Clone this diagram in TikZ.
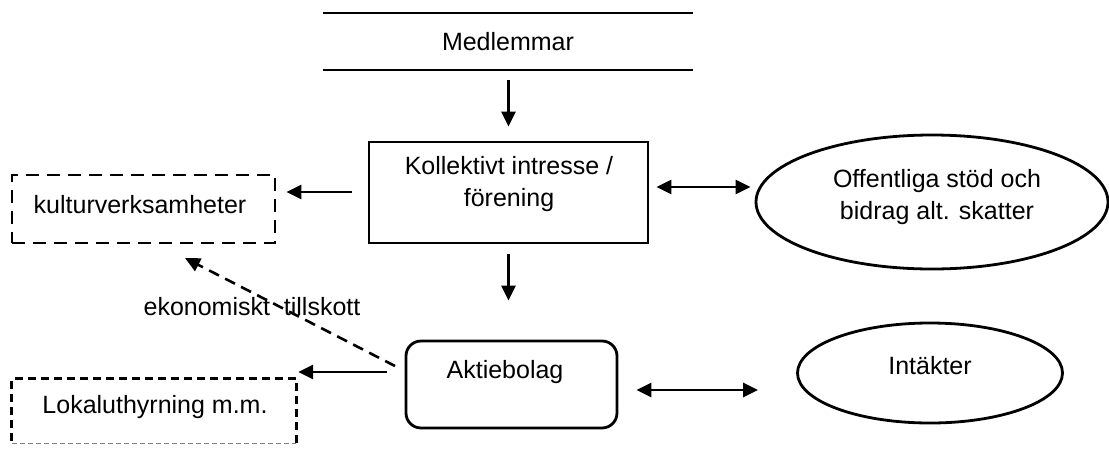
\documentclass[tikz,border=0pt]{standalone}
\usepackage{fontspec}
\setmainfont{Liberation Sans}
\usetikzlibrary{arrows.meta,shapes.geometric}

\tikzset{
  every node/.style={font=\fontsize{25}{32}\selectfont, align=center},
  solidbox/.style={draw, line width=2.8pt, inner sep=0pt},
  dashbox/.style={draw, line width=2.8pt, inner sep=0pt, dash pattern=on 13pt off 8pt},
  oval/.style={draw, ellipse, line width=2.8pt, inner sep=0pt},
  txt/.style={inner sep=0pt},
  arr/.style={line width=2.6pt, -{Triangle[length=15pt,width=14pt]}},
  biarr/.style={line width=2.6pt, {Triangle[length=15pt,width=14pt]}-{Triangle[length=15pt,width=14pt]}},
  dasharr/.style={line width=2.6pt, dash pattern=on 11pt off 7pt, -{Triangle[length=15pt,width=14pt]}}
}

\begin{document}
\begin{tikzpicture}[x=1pt, y=-1pt]
\useasboundingbox (0,0) rectangle (1109,448);

% top band: two rules only
\node[inner sep=0pt, minimum width=370pt, minimum height=57pt] (med) at (508,41.5) {};
\draw[line width=2.4pt] (med.north west) -- (med.north east);
\draw[line width=2.4pt] (med.south west) -- (med.south east);
\node[txt] (medtxt) at (508,41.5) {Medlemmar};

% association
\node[solidbox, minimum width=279pt, minimum height=101pt] (kol) at (508.5,192.5) {};
\node[txt] (koltxt) at (509,184) {Kollektivt intresse /\\förening};

% public funding
\node[oval, minimum width=352pt, minimum height=134pt] (off) at (932,202) {};
\node[txt] (offtxt) at (937,197) {Offentliga stöd och\\bidrag alt. skatter};

% culture activities
\node[dashbox, minimum width=263pt, minimum height=68pt] (kult) at (143.5,209) {};
\node[txt] (kulttxt) at (140,205) {kulturverksamheter};

% company
\node[draw, line width=2.8pt, rounded corners=15pt, minimum width=211pt, minimum height=87pt, inner sep=0pt] (akt) at (511.5,384.5) {};
\node[txt] (akttxt) at (505,372) {Aktiebolag};

% income
\node[oval, minimum width=265pt, minimum height=100pt] (int) at (930,373) {};
\node[txt] (inttxt) at (930,366) {Intäkter};

% premises rental
\node[inner sep=0pt, minimum width=284pt, minimum height=64pt] (lok) at (154,411) {};
\draw[line width=2.8pt, dash pattern=on 8pt off 5pt] (lok.south east) -- (lok.north east) -- (lok.north west) -- (lok.south west);
\draw[line width=1.4pt, gray, dash pattern=on 5pt off 3pt] (lok.south west) -- (lok.south east);
\node[txt] (loktxt) at (155,407) {Lokaluthyrning m.m.};

% connectors
\draw[arr, shorten <=10pt, shorten >=14pt] (med.south -| kol.south) -- (kol.north);
\draw[arr, shorten <=16pt, shorten >=10pt] ([yshift=0.5pt]kol.west) -- ([yshift=0.5pt]kol.west -| kult.east);
\draw[biarr, shorten <=7pt, shorten >=4pt] ([yshift=5.5pt]kol.east) -- ([yshift=5.5pt]kol.east -| off.west);
\draw[arr, shorten <=10pt, shorten >=39pt] (kol.south) -- (kol.south |- akt.north);
\draw[biarr, shorten <=18pt, shorten >=38pt] ([yshift=-5.5pt]akt.east) -- ([yshift=-5.5pt]akt.east -| int.west);
\draw[arr, shorten <=18pt, shorten >=2pt] ([yshift=12.5pt]akt.west) -- ([yshift=12.5pt]akt.west -| lok.east);

% financial contribution
\coordinate (bidragfran) at (395,366);
\coordinate (bidragtill) at (185,258);
\draw[dasharr] (bidragfran) -- (bidragtill);
\node[txt] (bidragtxt) at (252,307) {ekonomiskt\ \ tillskott};
\end{tikzpicture}
\end{document}
